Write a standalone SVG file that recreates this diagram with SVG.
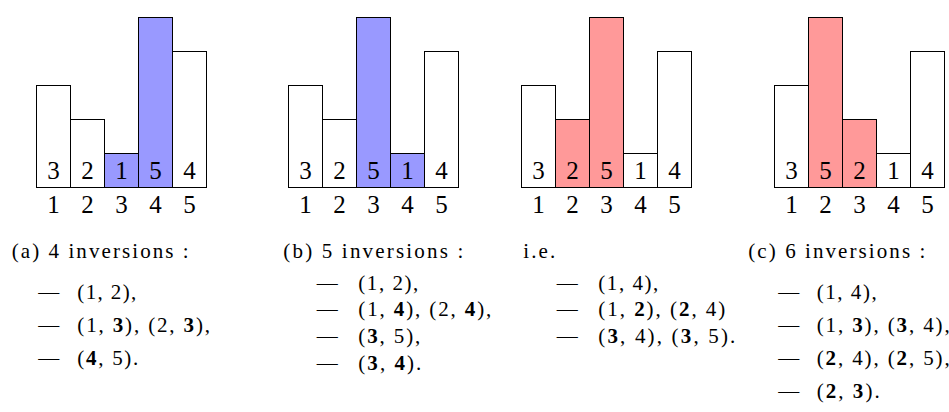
<svg xmlns="http://www.w3.org/2000/svg" width="949" height="412" viewBox="0 0 949 412" font-family="'Liberation Serif', 'Times New Roman', serif">
<style>
.bar{fill:#fff;stroke:#000;stroke-width:1}
.blue{fill:#9999ff}
.red{fill:#ff9999}
.v{font-size:25px;text-anchor:middle}
.cap{font-size:21px}
.b{font-weight:bold}
</style>
<rect width="949" height="412" fill="#fff"/>
<g id="panel-a">
<rect class="bar" x="36.5" y="85.5" width="34" height="102"/>
<rect class="bar" x="70.5" y="119.5" width="34" height="68"/>
<rect class="bar blue" x="104.5" y="153.5" width="34" height="34"/>
<rect class="bar blue" x="138.5" y="17.5" width="34" height="170"/>
<rect class="bar" x="172.5" y="51.5" width="34" height="136"/>
<text class="v" x="53.5" y="178.5">3</text><text class="v" x="87.5" y="178.5">2</text><text class="v" x="121.5" y="178.5">1</text><text class="v" x="155.5" y="178.5">5</text><text class="v" x="189.5" y="178.5">4</text>
<text class="v" x="53.5" y="212.5">1</text><text class="v" x="87.5" y="212.5">2</text><text class="v" x="121.5" y="212.5">3</text><text class="v" x="155.5" y="212.5">4</text><text class="v" x="189.5" y="212.5">5</text>
<text class="cap" x="11.7" y="257.5" textLength="177" lengthAdjust="spacing">(a) 4 inversions :</text>
<text class="cap" x="38.3" y="298.5">—</text><text class="cap" x="77.3" y="298.5" textLength="59" lengthAdjust="spacing">(1, 2),</text>
<text class="cap" x="38.3" y="331.8">—</text><text class="cap" x="77.3" y="331.8" textLength="132.7" lengthAdjust="spacing">(1, <tspan class="b">3</tspan>), (2, <tspan class="b">3</tspan>),</text>
<text class="cap" x="38.3" y="364.8">—</text><text class="cap" x="77.3" y="364.8" textLength="61" lengthAdjust="spacing">(<tspan class="b">4</tspan>, 5).</text>
</g>
<g id="panel-b">
<rect class="bar" x="288.5" y="85.5" width="34" height="102"/>
<rect class="bar" x="322.5" y="119.5" width="34" height="68"/>
<rect class="bar blue" x="356.5" y="17.5" width="34" height="170"/>
<rect class="bar blue" x="390.5" y="153.5" width="34" height="34"/>
<rect class="bar" x="424.5" y="51.5" width="34" height="136"/>
<text class="v" x="305.5" y="178.5">3</text><text class="v" x="339.5" y="178.5">2</text><text class="v" x="373.5" y="178.5">5</text><text class="v" x="407.5" y="178.5">1</text><text class="v" x="441.5" y="178.5">4</text>
<text class="v" x="305.5" y="212.5">1</text><text class="v" x="339.5" y="212.5">2</text><text class="v" x="373.5" y="212.5">3</text><text class="v" x="407.5" y="212.5">4</text><text class="v" x="441.5" y="212.5">5</text>
<text class="cap" x="283.3" y="257.5" textLength="180" lengthAdjust="spacing">(b) 5 inversions :</text>
<text class="cap" x="316.7" y="289.5">—</text><text class="cap" x="358.3" y="289.5" textLength="60" lengthAdjust="spacing">(1, 2),</text>
<text class="cap" x="316.7" y="316.2">—</text><text class="cap" x="358.3" y="316.2" textLength="133" lengthAdjust="spacing">(1, <tspan class="b">4</tspan>), (2, <tspan class="b">4</tspan>),</text>
<text class="cap" x="316.7" y="342.8">—</text><text class="cap" x="358.3" y="342.8" textLength="62" lengthAdjust="spacing">(<tspan class="b">3</tspan>, 5),</text>
<text class="cap" x="316.7" y="370">—</text><text class="cap" x="358.3" y="370" textLength="63" lengthAdjust="spacing">(<tspan class="b">3</tspan>, <tspan class="b">4</tspan>).</text>
</g>
<g id="panel-ie">
<rect class="bar" x="521.5" y="85.5" width="34" height="102"/>
<rect class="bar red" x="555.5" y="119.5" width="34" height="68"/>
<rect class="bar red" x="589.5" y="17.5" width="34" height="170"/>
<rect class="bar" x="623.5" y="153.5" width="34" height="34"/>
<rect class="bar" x="657.5" y="51.5" width="34" height="136"/>
<text class="v" x="538.5" y="178.5">3</text><text class="v" x="572.5" y="178.5">2</text><text class="v" x="606.5" y="178.5">5</text><text class="v" x="640.5" y="178.5">1</text><text class="v" x="674.5" y="178.5">4</text>
<text class="v" x="538.5" y="212.5">1</text><text class="v" x="572.5" y="212.5">2</text><text class="v" x="606.5" y="212.5">3</text><text class="v" x="640.5" y="212.5">4</text><text class="v" x="674.5" y="212.5">5</text>
<text class="cap" x="523.3" y="257.5" textLength="32" lengthAdjust="spacing">i.e.</text>
<text class="cap" x="556.7" y="289.5">—</text><text class="cap" x="598.3" y="289.5" textLength="60" lengthAdjust="spacing">(1, 4),</text>
<text class="cap" x="556.7" y="316.2">—</text><text class="cap" x="598.3" y="316.2" textLength="127" lengthAdjust="spacing">(1, <tspan class="b">2</tspan>), (<tspan class="b">2</tspan>, 4)</text>
<text class="cap" x="556.7" y="342.8">—</text><text class="cap" x="598.3" y="342.8" textLength="137" lengthAdjust="spacing">(<tspan class="b">3</tspan>, 4), (<tspan class="b">3</tspan>, 5).</text>
</g>
<g id="panel-c">
<rect class="bar" x="774.5" y="85.5" width="34" height="102"/>
<rect class="bar red" x="808.5" y="17.5" width="34" height="170"/>
<rect class="bar red" x="842.5" y="119.5" width="34" height="68"/>
<rect class="bar" x="876.5" y="153.5" width="34" height="34"/>
<rect class="bar" x="910.5" y="51.5" width="34" height="136"/>
<text class="v" x="791.5" y="178.5">3</text><text class="v" x="825.5" y="178.5">5</text><text class="v" x="859.5" y="178.5">2</text><text class="v" x="893.5" y="178.5">1</text><text class="v" x="927.5" y="178.5">4</text>
<text class="v" x="791.5" y="212.5">1</text><text class="v" x="825.5" y="212.5">2</text><text class="v" x="859.5" y="212.5">3</text><text class="v" x="893.5" y="212.5">4</text><text class="v" x="927.5" y="212.5">5</text>
<text class="cap" x="748.3" y="257.5" textLength="177" lengthAdjust="spacing">(c) 6 inversions :</text>
<text class="cap" x="778.3" y="298.5">—</text><text class="cap" x="816.7" y="298.5" textLength="60" lengthAdjust="spacing">(1, 4),</text>
<text class="cap" x="778.3" y="331.8">—</text><text class="cap" x="816.7" y="331.8" textLength="133" lengthAdjust="spacing">(1, <tspan class="b">3</tspan>), (<tspan class="b">3</tspan>, 4),</text>
<text class="cap" x="778.3" y="364.8">—</text><text class="cap" x="816.7" y="364.8" textLength="133" lengthAdjust="spacing">(<tspan class="b">2</tspan>, 4), (<tspan class="b">2</tspan>, 5),</text>
<text class="cap" x="778.3" y="397.8">—</text><text class="cap" x="816.7" y="397.8" textLength="63" lengthAdjust="spacing">(<tspan class="b">2</tspan>, <tspan class="b">3</tspan>).</text>
</g>
</svg>
